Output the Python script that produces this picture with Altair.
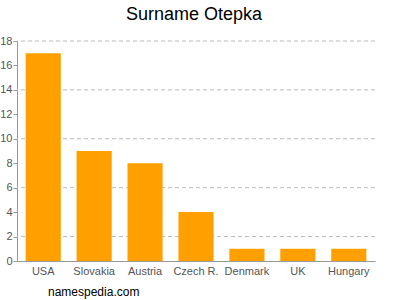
import altair as alt
import pandas as pd

countries = ["USA", "Slovakia", "Austria", "Czech R.", "Denmark", "UK", "Hungary"]
counts = [17, 9, 8, 4, 1, 1, 1]
grid_values = [2, 6, 10, 14, 18]
tick_values = [0, 2, 4, 6, 8, 10, 12, 14, 16, 18]

df = pd.DataFrame({"country": countries, "count": counts})
gdf = pd.DataFrame({"g": grid_values})

FONT = "Liberation Sans"

yaxis = alt.Axis(values=tick_values, grid=False, labelColor="#555555",
                 labelFontSize=11, labelFont=FONT, domainColor="#999999",
                 tickColor="#999999", tickSize=4, labelPadding=1,
                 labelOverlap=False)

bars = alt.Chart(df).mark_bar(color="#FFA000").encode(
    x=alt.X("country:N", sort=countries, title=None,
            scale=alt.Scale(paddingInner=0.31, paddingOuter=0.17),
            axis=alt.Axis(labelAngle=0, labelColor="#555555", labelFontSize=11,
                          labelFont=FONT, domainColor="#999999", ticks=False,
                          labelPadding=4)),
    y=alt.Y("count:Q", title=None,
            scale=alt.Scale(domain=[0, 18], nice=False),
            axis=yaxis),
)

grid = alt.Chart(gdf).mark_rule(color="#BBBBBB", strokeDash=[4, 3], strokeWidth=1).encode(
    y=alt.Y("g:Q", title=None, axis=yaxis)
)

footer = alt.Chart(pd.DataFrame({"t": ["namespedia.com"]})).mark_text(
    align="left", baseline="middle", fontSize=12, font=FONT, color="#000000"
).encode(x=alt.value(31), y=alt.value(251), text="t:N")

chart = alt.layer(grid, bars, footer).properties(
    width=358, height=220,
    autosize="none",
    padding={"left": 17, "top": 41, "right": 25, "bottom": 39},
    title=alt.TitleParams("Surname Otepka", fontSize=18, font=FONT, fontWeight="normal",
                          color="#000000", anchor="middle", offset=11, dx=-2),
).configure_view(stroke=None)

chart.save("out.html", embed_options={"renderer": "svg", "actions": False})
